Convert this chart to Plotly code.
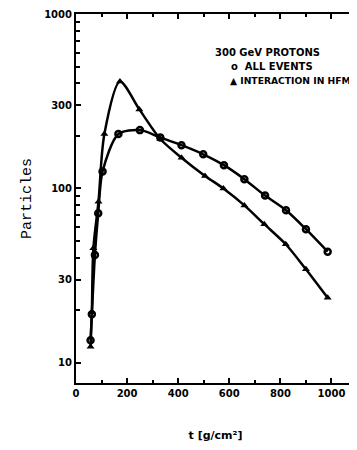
import plotly.graph_objects as go

# Data
t_all = [57, 62, 74, 87, 104, 166, 250, 330, 413, 498, 579, 659, 740, 822, 900, 985]
n_all = [13.5, 19, 41.6, 72, 125, 205, 216, 196, 177, 157, 136, 113, 91, 75, 58.4, 43.4]

t_hfm = [57, 62, 68, 88, 111, 172, 248, 330, 413, 505, 577, 659, 737, 821, 900, 985]
n_hfm = [12.4, 19.5, 45.4, 84, 205, 410, 284, 192, 150, 118, 100, 80, 62.4, 47.9, 34.4, 23.6]

x_ticks = [0, 200, 400, 600, 800, 1000]
x_minor = [100, 300, 500, 700, 900]
y_ticks = [10, 30, 100, 300, 1000]
y_minor = [20, 40, 50, 60, 70, 80, 90, 200, 400, 500, 600, 700, 800, 900]

legend_title = "300 GeV PROTONS"
legend_all = "ALL EVENTS"
legend_hfm = "INTERACTION IN HFM"

fig = go.Figure()
fig.add_trace(go.Scatter(
    x=t_all, y=n_all, mode="lines+markers", name=legend_all,
    line=dict(color="black", width=2.5, shape="spline", smoothing=0.8),
    marker=dict(symbol="circle-open", size=6, color="black", line=dict(width=2.5, color="black")),
    showlegend=False,
))
fig.add_trace(go.Scatter(
    x=t_hfm, y=n_hfm, mode="lines+markers", name=legend_hfm,
    line=dict(color="black", width=2.5, shape="spline", smoothing=0.8),
    marker=dict(symbol="triangle-up", size=7, color="black"),
    showlegend=False,
))

tickfont = dict(family="DejaVu Sans", size=10, color="black", weight="bold")

fig.update_xaxes(
    range=[0, 1092], tickvals=x_ticks, ticktext=[str(v) for v in x_ticks],
    ticks="inside", ticklen=5, tickwidth=1.5, tickcolor="black",
    minor=dict(tickvals=x_minor, ticks="inside", ticklen=3, tickwidth=1.5, tickcolor="black"),
    showline=True, linecolor="black", linewidth=2, mirror="ticks",
    showgrid=False, zeroline=False, tickfont=tickfont, automargin=False,
    title=dict(text="t [g/cm²]", font=dict(family="DejaVu Sans", size=11, color="black", weight="bold"),
               standoff=38),
)
fig.update_yaxes(
    type="log", range=[0.885, 3.0],
    tickvals=y_ticks, ticktext=[str(v) for v in y_ticks],
    ticks="inside", ticklen=5, tickwidth=1.5, tickcolor="black",
    minor=dict(tickvals=y_minor, ticks="inside", ticklen=4, tickwidth=1.5, tickcolor="black"),
    showline=True, linecolor="black", linewidth=2, mirror="ticks",
    showgrid=False, zeroline=False, tickfont=tickfont, automargin=False,
    title=dict(text="Particles", font=dict(family="Liberation Mono", size=15, color="black"),
               standoff=9),
)

annfont = dict(family="DejaVu Sans", size=10, color="black", weight="bold")
fig.add_annotation(xref="paper", yref="paper", x=0.491, y=0.897, xanchor="left", yanchor="middle",
                   text=legend_title, showarrow=False, font=annfont)
fig.add_annotation(xref="paper", yref="paper", x=0.548, y=0.859, xanchor="left", yanchor="middle",
                   text="o  " + legend_all, showarrow=False, font=annfont)
fig.add_annotation(xref="paper", yref="paper", x=0.545, y=0.821, xanchor="left", yanchor="middle",
                   text="▲ " + legend_hfm, showarrow=False,
                   font=dict(family="DejaVu Sans", size=9.2, color="black", weight="bold"))

# the page body has an 8px margin, so the figure is sized to end at the window edge
fig.update_layout(
    width=349, height=434,
    margin=dict(l=68, r=2, t=6, b=59),
    paper_bgcolor="white", plot_bgcolor="white",
    font=dict(family="DejaVu Sans", color="black"),
)

fig.write_html("out.html")
